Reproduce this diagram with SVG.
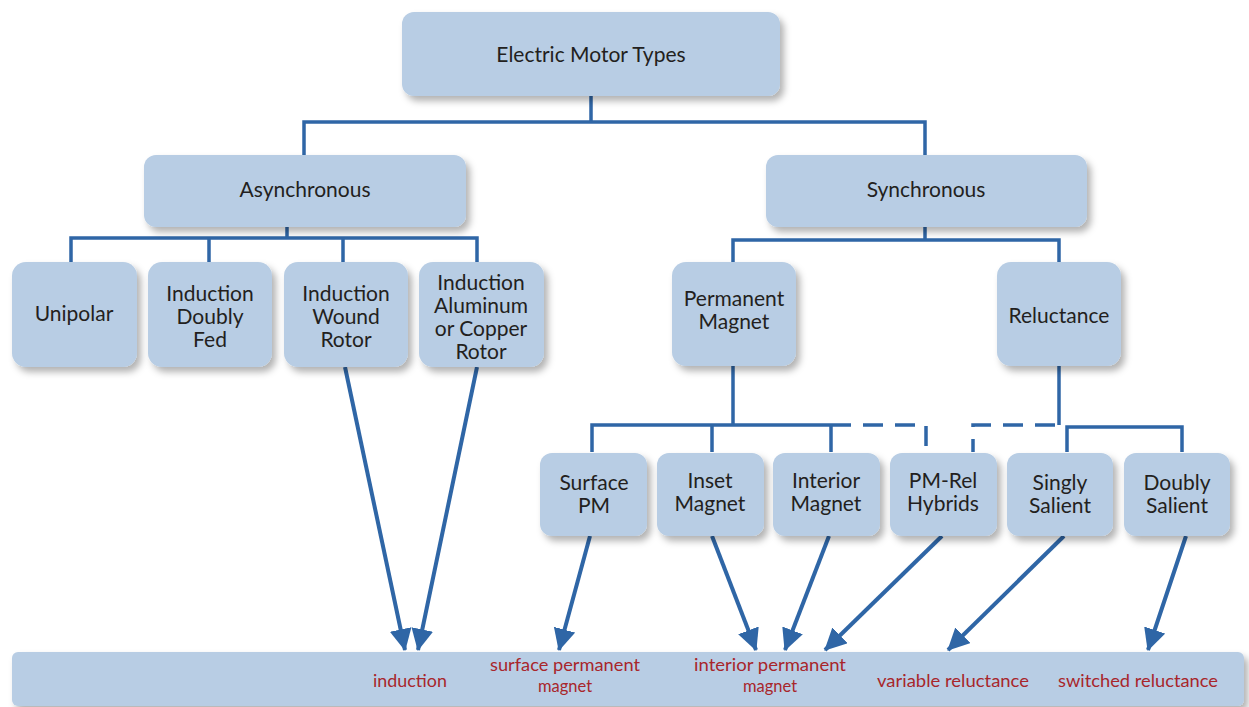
<svg xmlns="http://www.w3.org/2000/svg" width="1249" height="707" viewBox="0 0 1249 707">
<style>
.box{fill:#b8cde4;filter:url(#sh)}
.t{font-family:Lato,"Open Sans",sans-serif;font-size:21px;fill:#231f20;text-anchor:middle}
.r{font-family:Lato,"Open Sans",sans-serif;font-size:17.5px;fill:#a8262b;text-anchor:middle}
.r2{font-family:Lato,"Open Sans",sans-serif;font-size:16.5px;fill:#a8262b;text-anchor:middle}
.ln{stroke:#2f66a6;stroke-width:3.5;fill:none}
.ds{stroke:#2f66a6;stroke-width:3.5;fill:none;stroke-dasharray:20 12}
.ar{stroke:#2f66a6;stroke-width:4;fill:none;marker-end:url(#ah)}
</style>
<defs>
<filter id="sh" x="-10%" y="-10%" width="130%" height="140%">
<feDropShadow dx="4" dy="5" stdDeviation="3.5" flood-color="#000" flood-opacity="0.3"/>
</filter>
<marker id="ah" markerUnits="userSpaceOnUse" markerWidth="26" markerHeight="26" refX="21" refY="11" orient="auto">
<path d="M0,0 L22,11 L0,22 Z" fill="#2f66a6"/>
</marker>
</defs>
<rect width="1249" height="707" fill="#fff"/>
<g id="connectors">
<path class="ln" d="M591,96 V122 M304,155 V122 H925 V155"/>
<path class="ln" d="M287,227 V238 M71,262 V238 H477 V262 M209,238 V262 M343,238 V262"/>
<path class="ln" d="M925,227 V240 M733,262 V240 H1059 V262"/>
<path class="ln" d="M733,366 V425 M592,452 V425 H851 M712,425 V452 M831,425 V452"/>
<path class="ds" d="M863,425 H926 V452"/>
<path class="ln" d="M1059,366 V425"/>
<path class="ds" d="M1055,425 H973 V452"/>
<path class="ln" d="M1067,452 V427 H1182 V452"/>
<path class="ar" d="M345,367 L405,650"/>
<path class="ar" d="M477,367 L418,650"/>
<path class="ar" d="M590,536 L559,650"/>
<path class="ar" d="M712,536 L756,650"/>
<path class="ar" d="M829,536 L785,650"/>
<path class="ar" d="M942,536 L825,650"/>
<path class="ar" d="M1064,536 L948,650"/>
<path class="ar" d="M1186,536 L1148,650"/>
</g>
<g id="n-root"><rect class="box" x="402" y="12" width="378" height="84" rx="12"/><text class="t" x="591" y="62">Electric Motor Types</text></g>
<g id="n-async"><rect class="box" x="144" y="155" width="322" height="72" rx="12"/><text class="t" x="305" y="197">Asynchronous</text></g>
<g id="n-sync"><rect class="box" x="766" y="155" width="321" height="72" rx="12"/><text class="t" x="926" y="197">Synchronous</text></g>
<g id="n-unipolar"><rect class="box" x="12" y="262" width="125" height="105" rx="14"/><text class="t" x="74" y="321">Unipolar</text></g>
<g id="n-doubly-fed"><rect class="box" x="148" y="262" width="124" height="105" rx="14"/><text class="t" x="210" y="301">Induction</text><text class="t" x="210" y="324">Doubly</text><text class="t" x="210" y="347">Fed</text></g>
<g id="n-wound"><rect class="box" x="284" y="262" width="124" height="105" rx="14"/><text class="t" x="346" y="301">Induction</text><text class="t" x="346" y="324">Wound</text><text class="t" x="346" y="347">Rotor</text></g>
<g id="n-alcu"><rect class="box" x="419" y="262" width="125" height="105" rx="14"/><text class="t" x="481" y="290">Induction</text><text class="t" x="481" y="313">Aluminum</text><text class="t" x="481" y="336">or Copper</text><text class="t" x="481" y="359">Rotor</text></g>
<g id="n-pm"><rect class="box" x="672" y="262" width="124" height="104" rx="14"/><text class="t" x="734" y="306">Permanent</text><text class="t" x="734" y="329">Magnet</text></g>
<g id="n-rel"><rect class="box" x="997" y="262" width="124" height="104" rx="14"/><text class="t" x="1059" y="323">Reluctance</text></g>
<g id="n-surface"><rect class="box" x="540" y="453" width="107" height="83" rx="12"/><text class="t" x="594" y="490">Surface</text><text class="t" x="594" y="513">PM</text></g>
<g id="n-inset"><rect class="box" x="657" y="453" width="107" height="83" rx="12"/><text class="t" x="710" y="488">Inset</text><text class="t" x="710" y="511">Magnet</text></g>
<g id="n-interior"><rect class="box" x="773" y="453" width="107" height="83" rx="12"/><text class="t" x="826" y="488">Interior</text><text class="t" x="826" y="511">Magnet</text></g>
<g id="n-pmrel"><rect class="box" x="890" y="453" width="107" height="83" rx="12"/><text class="t" x="943" y="488">PM-Rel</text><text class="t" x="943" y="511">Hybrids</text></g>
<g id="n-singly"><rect class="box" x="1007" y="453" width="106" height="83" rx="12"/><text class="t" x="1060" y="490">Singly</text><text class="t" x="1060" y="513">Salient</text></g>
<g id="n-doubly-salient"><rect class="box" x="1124" y="453" width="106" height="83" rx="12"/><text class="t" x="1177" y="490">Doubly</text><text class="t" x="1177" y="513">Salient</text></g>
<g id="n-band"><rect class="box" x="12" y="652" width="1232" height="54" rx="6"/>
<text class="r" x="410" y="687" textLength="74" lengthAdjust="spacingAndGlyphs">induction</text>
<text class="r2" x="565" y="671" textLength="150" lengthAdjust="spacingAndGlyphs">surface permanent</text>
<text class="r2" x="565" y="692">magnet</text>
<text class="r2" x="770" y="671" textLength="152" lengthAdjust="spacingAndGlyphs">interior permanent</text>
<text class="r2" x="770" y="692">magnet</text>
<text class="r" x="953" y="687" textLength="152" lengthAdjust="spacingAndGlyphs">variable reluctance</text>
<text class="r" x="1138" y="687" textLength="160" lengthAdjust="spacingAndGlyphs">switched reluctance</text>
</g>
</svg>
